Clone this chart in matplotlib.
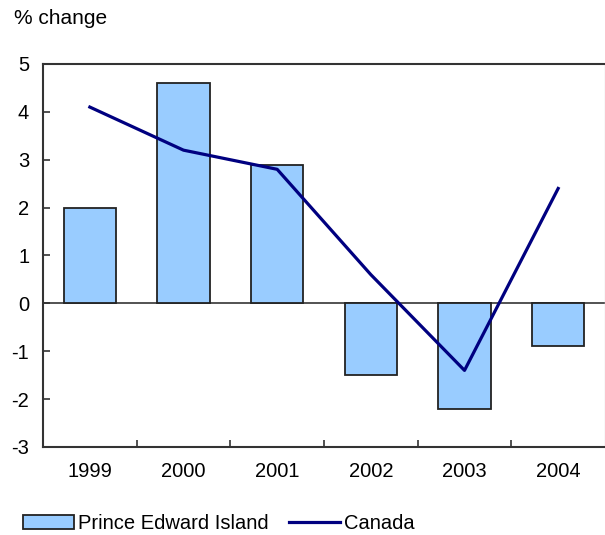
import matplotlib.pyplot as plt
import numpy as np

## data
years = ['1999', '2000', '2001', '2002', '2003', '2004']
pei = [2.0, 4.6, 2.9, -1.5, -2.2, -0.9]
canada = [4.1, 3.2, 2.8, 0.6, -1.4, 2.4]

plt.rcParams['font.family'] = ['Liberation Sans', 'DejaVu Sans']
plt.rcParams['axes.unicode_minus'] = False

fg = plt.figure(figsize=(6.05, 5.35), dpi=100)
ax = fg.add_axes([0.0711, 0.1645, 0.9289, 0.7159])

x = np.arange(len(years))
bars = ax.bar(x, pei, width=0.56, color='#99CCFF', edgecolor='#222222', linewidth=1.3,
              label='Prince Edward Island', zorder=2)
line, = ax.plot(x, canada, color='#000080', linewidth=2.3, label='Canada', zorder=3)
ax.axhline(0, color='#444444', linewidth=1.3, zorder=1)

ax.set_xlim(-0.5, len(years) - 0.5)
ax.set_ylim(-3, 5)
ax.set_yticks(range(-3, 6))

## year labels centred, tick marks on category boundaries
ax.set_xticks(x)
ax.set_xticklabels(years)
ax.set_xticks(np.arange(0.5, len(years) - 1, 1), minor=True)
ax.tick_params(axis='x', which='major', length=0, pad=11, labelsize=14.5)
ax.tick_params(axis='x', which='minor', direction='in', length=5, width=1.2, color='#333333')
ax.tick_params(axis='y', direction='in', length=5, width=1.2, color='#333333', pad=10, labelsize=14.5)

for side in ['left', 'bottom', 'top']:
    ax.spines[side].set_color('#333333')
    ax.spines[side].set_linewidth(1.5)
ax.spines['right'].set_color('#dddddd')
ax.spines['right'].set_linewidth(1.0)

fg.text(0.023, 0.966, '% change', fontsize=15, va='center', ha='left')

fg.legend([bars, line], ['Prince Edward Island', 'Canada'],
          loc='center left', bbox_to_anchor=(0.024, 0.022), ncol=2, frameon=False,
          fontsize=14.5, handlelength=2.55, handletextpad=0.2, columnspacing=1.0,
          borderaxespad=0)

plt.savefig('out.png', dpi=100)
